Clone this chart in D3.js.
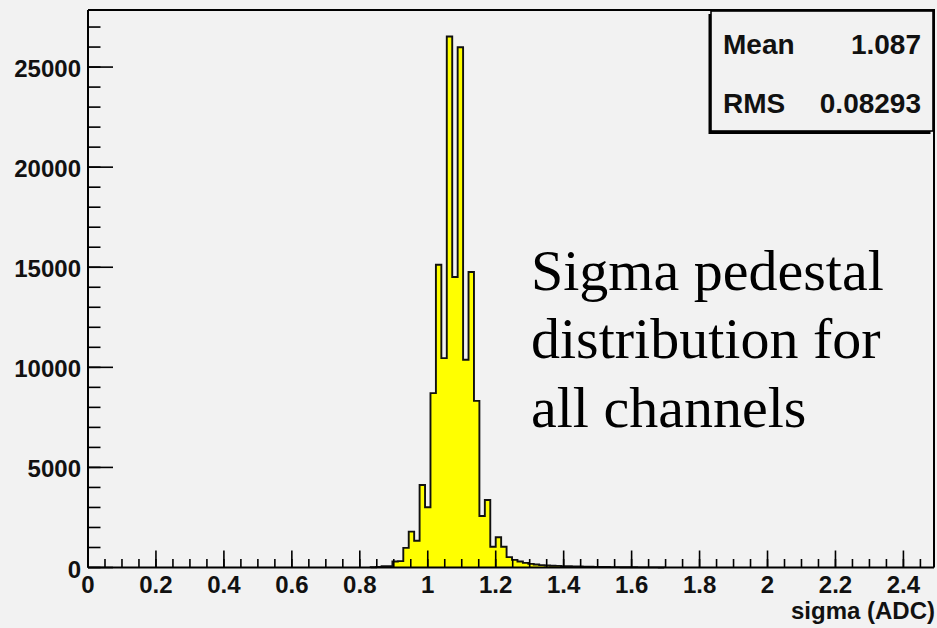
<!DOCTYPE html>
<html>
<head>
<meta charset="utf-8">
<script src="https://cdn.jsdelivr.net/npm/d3@7"></script>
<style>
  html, body { margin: 0; padding: 0; background: #f2f2f2; }
  svg { display: block; }
</style>
</head>
<body>
<svg id="chart" width="937" height="628"></svg>
<script>
// Histogram of pedestal sigma for all channels (bin width 0.016 ADC)
const binWidth = 0.016;
const firstBin = 52;            // index of the first listed bin (x = firstBin * binWidth)
const counts = [
  10, 25, 60, 70, 300, 320, 980, 1790, 1340, 4125,
  3010, 8710, 15125, 10460, 26525, 14510, 25990, 10375, 14760, 8325,
  2575, 3375, 1040, 1510, 1040, 520, 380, 300, 230, 180,
  150, 120, 100, 90, 80, 70, 60, 55, 50, 40,
  35, 30, 28, 25, 20, 18, 15, 12, 10, 8,
  6, 5, 4, 3
];
const xRange = [0, 2.49];
const xTickValues = [0, 0.2, 0.4, 0.6, 0.8, 1, 1.2, 1.4, 1.6, 1.8, 2, 2.2, 2.4];
const yTickValues = [0, 5000, 10000, 15000, 20000, 25000];
const statsLabels = ["Mean", "RMS"];
const statsValues = ["1.087", "0.08293"];
const xTitle = "sigma (ADC)";
const noteLines = ["Sigma pedestal", "distribution for", "all channels"];

const svg = d3.select("#chart");
const padL = 88, padR = 934, padT = 10, padB = 567.5;
const sansBold = "Liberation Sans, Arial, sans-serif";

const x = d3.scaleLinear().domain(xRange).range([padL, padR]);
const yMax = d3.max(counts) * 1.05;
const y = d3.scaleLinear().domain([0, yMax]).range([padB, padT]);

// histogram points: left edge of each bin with its count
const pts = counts.map((c, i) => [(firstBin + i) * binWidth, c]);
const xEnd = (firstBin + counts.length) * binWidth;
const stepPts = [[pts[0][0], 0], ...pts, [xEnd, 0]];

const area = d3.area()
  .x(d => x(d[0]))
  .y0(y(0))
  .y1(d => y(d[1]))
  .curve(d3.curveStepAfter);
const line = d3.line()
  .x(d => x(d[0]))
  .y(d => y(d[1]))
  .curve(d3.curveStepAfter);

svg.append("path")
  .attr("d", area(stepPts))
  .attr("fill", "#ffff00");
svg.append("path")
  .attr("d", line(stepPts))
  .attr("fill", "none")
  .attr("stroke", "#111")
  .attr("stroke-width", 1.9)
  .attr("stroke-linejoin", "miter");

// frame (top and right)
svg.append("path")
  .attr("d", `M${padL},${padT}H${padR}V${padB}`)
  .attr("fill", "none")
  .attr("stroke", "#000")
  .attr("stroke-width", 2);

// x axis: major ticks every 0.2, minor every 0.05
const xAxis = svg.append("g");
xAxis.append("line")
  .attr("x1", padL).attr("x2", padR)
  .attr("y1", padB).attr("y2", padB)
  .attr("stroke", "#000").attr("stroke-width", 2);
const xMinor = d3.range(0, xRange[1] + 1e-9, 0.05);
xAxis.selectAll("line.minor").data(xMinor).join("line")
  .attr("class", "minor")
  .attr("x1", d => x(d)).attr("x2", d => x(d))
  .attr("y1", padB).attr("y2", padB - 8.5)
  .attr("stroke", "#000").attr("stroke-width", 1.6);
xAxis.selectAll("line.major").data(xTickValues).join("line")
  .attr("class", "major")
  .attr("x1", d => x(d)).attr("x2", d => x(d))
  .attr("y1", padB).attr("y2", padB - 17)
  .attr("stroke", "#000").attr("stroke-width", 1.6);
xAxis.selectAll("text").data(xTickValues).join("text")
  .attr("x", d => x(d))
  .attr("y", padB + 25)
  .attr("text-anchor", "middle")
  .attr("font-family", sansBold)
  .attr("font-weight", "bold")
  .attr("font-size", 24)
  .attr("fill", "#111")
  .text(d => d3.format("")(d));

// y axis: major ticks every 5000, minor every 1000
const yAxis = svg.append("g");
yAxis.append("line")
  .attr("x1", padL).attr("x2", padL)
  .attr("y1", padT).attr("y2", padB)
  .attr("stroke", "#000").attr("stroke-width", 2);
const yMinor = d3.range(0, yMax, 1000);
yAxis.selectAll("line.minor").data(yMinor).join("line")
  .attr("class", "minor")
  .attr("x1", padL).attr("x2", padL + 12.5)
  .attr("y1", d => y(d)).attr("y2", d => y(d))
  .attr("stroke", "#000").attr("stroke-width", 1.6);
yAxis.selectAll("line.major").data(yTickValues).join("line")
  .attr("class", "major")
  .attr("x1", padL).attr("x2", padL + 25)
  .attr("y1", d => y(d)).attr("y2", d => y(d))
  .attr("stroke", "#000").attr("stroke-width", 1.6);
yAxis.selectAll("text").data(yTickValues).join("text")
  .attr("x", padL - 7)
  .attr("y", d => y(d) + 10)
  .attr("text-anchor", "end")
  .attr("font-family", sansBold)
  .attr("font-weight", "bold")
  .attr("font-size", 24)
  .attr("fill", "#111")
  .text(d => d);

// axis title
svg.append("text")
  .attr("x", 935)
  .attr("y", 619)
  .attr("text-anchor", "end")
  .attr("font-family", sansBold)
  .attr("font-weight", "bold")
  .attr("font-size", 24)
  .attr("fill", "#111")
  .text(xTitle);

// statistics box with shadow
const box = { x0: 711, y0: 11, x1: 933, y1: 131 };
svg.append("rect")
  .attr("x", box.x0 - 2.5).attr("y", box.y0 + 3)
  .attr("width", box.x1 - box.x0).attr("height", box.y1 - box.y0)
  .attr("fill", "#000");
svg.append("rect")
  .attr("x", box.x0).attr("y", box.y0)
  .attr("width", box.x1 - box.x0).attr("height", box.y1 - box.y0)
  .attr("fill", "#f2f2f2")
  .attr("stroke", "#000").attr("stroke-width", 1.6);
const statRows = svg.append("g")
  .attr("font-family", sansBold)
  .attr("font-weight", "bold")
  .attr("font-size", 28)
  .attr("fill", "#111");
statsLabels.forEach((lab, i) => {
  const by = 53.5 + i * 59;
  statRows.append("text").attr("x", 723).attr("y", by).text(lab);
  statRows.append("text").attr("x", 921).attr("y", by)
    .attr("text-anchor", "end").text(statsValues[i]);
});

// annotation
const note = svg.append("g")
  .attr("font-family", "Liberation Serif, Times New Roman, serif")
  .attr("font-size", 58)
  .attr("fill", "#000");
noteLines.forEach((t, i) => {
  note.append("text").attr("x", 531).attr("y", 290 + i * 68.3).text(t);
});
</script>
</body>
</html>
